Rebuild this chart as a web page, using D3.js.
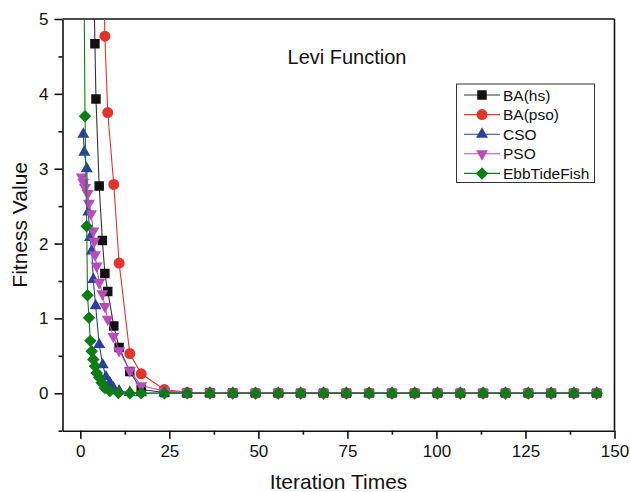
<!DOCTYPE html>
<html>
<head>
  <title>Levi Function</title>
  <script src="https://d3js.org/d3.v7.min.js"></script>
  <style>
    body { margin: 0; background: #fff; }
    svg text { font-family: "Liberation Sans", Arial, sans-serif; fill: #111; }
  </style>
</head>
<body>
<div id="vis"></div>
<script>
  // iterations shared by all curves after the fast drop
  var tailIter = [30.0, 36.4, 42.8, 49.2, 55.6, 61.9, 68.3, 74.7, 81.1, 87.5, 93.9, 100.3, 106.7, 113.1, 119.4, 125.8, 132.2, 138.6, 145.0];

  // BA(hs)
  var hsIter = [3.5, 4.1, 4.4, 5.3, 6.2, 6.9, 7.7, 9.4, 10.9, 13.9, 17.1, 23.6];
  var hsFit  = [6.2, 4.67, 3.93, 2.77, 2.04, 1.60, 1.36, 0.90, 0.61, 0.29, 0.05, 0.01];
  var hsTail = [0.004, 0.003, 0.003, 0.002, 0.002, 0.002, 0.002, 0.002, 0.002, 0.002, 0.002, 0.002, 0.002, 0.002, 0.002, 0.002, 0.002, 0.002, 0.002];

  // BA(pso)
  var baPsoIter = [6.2, 6.9, 7.7, 9.4, 10.9, 13.9, 17.1, 23.6];
  var baPsoFit  = [6.4, 4.77, 3.75, 2.79, 1.74, 0.53, 0.26, 0.05];
  var baPsoTail = [0.012, 0.006, 0.004, 0.003, 0.003, 0.003, 0.003, 0.003, 0.003, 0.003, 0.003, 0.003, 0.003, 0.003, 0.003, 0.003, 0.003, 0.003, 0.003];

  // CSO
  var csoIter = [0.84, 1.12, 1.8, 2.25, 2.72, 3.2, 3.65, 4.3, 5.3, 6.3, 7.2, 8.3, 9.3, 10.9, 13.9, 17.1, 23.6];
  var csoFit  = [3.46, 3.22, 3.00, 2.42, 2.08, 1.90, 1.52, 1.17, 0.65, 0.38, 0.22, 0.14, 0.07, 0.03, 0.01, 0.005, 0.003];
  var csoTail = [0.002, 0.002, 0.002, 0.002, 0.002, 0.002, 0.002, 0.002, 0.002, 0.002, 0.002, 0.002, 0.002, 0.002, 0.002, 0.002, 0.002, 0.002, 0.002];

  // PSO
  var psoIter = [0.4, 0.84, 1.32, 2.08, 2.44, 3.0, 3.65, 3.93, 4.13, 4.6, 5.3, 6.2, 6.9, 7.7, 9.3, 10.9, 13.9, 17.1, 23.6];
  var psoFit  = [2.89, 2.82, 2.75, 2.67, 2.54, 2.40, 2.17, 2.03, 1.85, 1.70, 1.48, 1.33, 1.16, 0.99, 0.76, 0.57, 0.30, 0.10, 0.03];
  var psoTail = [0.01, 0.006, 0.004, 0.003, 0.003, 0.003, 0.003, 0.003, 0.003, 0.003, 0.003, 0.003, 0.003, 0.003, 0.003, 0.003, 0.003, 0.003, 0.003];

  // EbbTideFish
  var etfIter = [0.9, 1.32, 1.8, 2.02, 2.44, 2.81, 3.2, 3.65, 4.13, 4.6, 5.3, 6.0, 6.9, 8.3, 10.7, 13.9, 17.1, 23.6];
  var etfFit  = [6.5, 3.70, 2.23, 1.31, 1.01, 0.70, 0.56, 0.45, 0.36, 0.27, 0.21, 0.14, 0.07, 0.03, 0.003, 0.0, 0.0, 0.0];
  var etfTail = [0, 0, 0, 0, 0, 0, 0, 0, 0, 0, 0, 0, 0, 0, 0, 0, 0, 0, 0];

  var seriesNames = ["BA(hs)", "BA(pso)", "CSO", "PSO", "EbbTideFish"];
  var xTicks = [0, 25, 50, 75, 100, 125, 150];
  var yTicks = [0, 1, 2, 3, 4, 5];

  var colors = ["#111111", "#e3342a", "#2b3f9f", "#b94cbc", "#0b7d14"];
  var lineColors = ["#333333", "#e3342a", "#2b3f9f", "#b94cbc", "#0b7d14"];
  var shapes = [
    {type: d3.symbolSquare, size: 90, rot: 0},
    {type: d3.symbolCircle, size: 95, rot: 0},
    {type: d3.symbolTriangle, size: 62, rot: 0},
    {type: d3.symbolTriangle, size: 62, rot: 180},
    {type: d3.symbolSquare, size: 78, rot: 45}
  ];

  function build(iters, fits, tail) {
    var pts = [];
    for (var i = 0; i < iters.length; i++) pts.push({x: iters[i], y: fits[i]});
    for (var j = 0; j < tailIter.length; j++) pts.push({x: tailIter[j], y: tail[j]});
    return pts;
  }

  var series = [
    build(hsIter, hsFit, hsTail),
    build(baPsoIter, baPsoFit, baPsoTail),
    build(csoIter, csoFit, csoTail),
    build(psoIter, psoFit, psoTail),
    build(etfIter, etfFit, etfTail)
  ];

  var width = 630, height = 492;
  var plotLeft = 62.5, plotRight = 614.5, plotTop = 19, plotBottom = 430.7;

  var svg = d3.select("#vis").append("svg")
    .attr("width", width)
    .attr("height", height);

  var x = d3.scaleLinear().domain([-5, 150]).range([plotLeft, plotRight]);
  var y = d3.scaleLinear().domain([-0.5, 5]).range([plotBottom, plotTop]);

  svg.append("defs").append("clipPath").attr("id", "plotclip")
    .append("rect")
    .attr("x", plotLeft).attr("y", plotTop)
    .attr("width", plotRight - plotLeft).attr("height", plotBottom - plotTop);

  // x axis
  svg.append("g")
    .attr("transform", "translate(0," + plotBottom + ")")
    .call(d3.axisBottom(x).tickValues(xTicks).tickFormat(d3.format("d")).tickSize(8).tickPadding(6).tickSizeOuter(0));
  svg.append("g")
    .attr("transform", "translate(0," + plotBottom + ")")
    .call(d3.axisBottom(x).tickValues([12.5, 37.5, 62.5, 87.5, 112.5, 137.5]).tickSize(4).tickFormat("").tickSizeOuter(0))
    .select(".domain").remove();

  // y axis
  svg.append("g")
    .attr("transform", "translate(" + plotLeft + ",0)")
    .call(d3.axisLeft(y).tickValues(yTicks).tickFormat(d3.format("d")).tickSize(8).tickPadding(6).tickSizeOuter(0));
  svg.append("g")
    .attr("transform", "translate(" + plotLeft + ",0)")
    .call(d3.axisLeft(y).tickValues([-0.5, 0.5, 1.5, 2.5, 3.5, 4.5]).tickSize(4).tickFormat("").tickSizeOuter(0))
    .select(".domain").remove();

  svg.selectAll(".tick text")
    .style("font-size", "17px")
    .style("font-family", "'Liberation Sans', Arial, sans-serif")
    .attr("fill", "#111");
  svg.selectAll(".domain, .tick line")
    .attr("stroke", "#111")
    .attr("stroke-width", 1.6);

  // frame top and right
  svg.append("line").attr("x1", plotLeft).attr("x2", plotRight).attr("y1", plotTop).attr("y2", plotTop)
    .attr("stroke", "#111").attr("stroke-width", 1.6);
  svg.append("line").attr("x1", plotRight).attr("x2", plotRight).attr("y1", plotTop).attr("y2", plotBottom)
    .attr("stroke", "#111").attr("stroke-width", 1.6);

  var plot = svg.append("g").attr("clip-path", "url(#plotclip)");

  var line = d3.line()
    .x(function (d) { return x(d.x); })
    .y(function (d) { return y(d.y); });

  series.forEach(function (pts, i) {
    var g = plot.append("g");
    g.append("path")
      .datum(pts)
      .attr("d", line)
      .attr("fill", "none")
      .attr("stroke", lineColors[i])
      .attr("stroke-width", 1.1);
    g.selectAll("path.mk")
      .data(pts)
      .enter()
      .append("path")
      .attr("class", "mk")
      .attr("d", d3.symbol().type(shapes[i].type).size(shapes[i].size))
      .attr("transform", function (d) {
        return "translate(" + x(d.x) + "," + y(d.y) + ") rotate(" + shapes[i].rot + ")";
      })
      .attr("fill", colors[i]);
  });

  // title
  svg.append("text")
    .attr("x", 347).attr("y", 64)
    .attr("text-anchor", "middle")
    .style("font-size", "20px")
    .text("Levi Function");

  // axis titles
  svg.append("text")
    .attr("x", (plotLeft + plotRight) / 2).attr("y", 489)
    .attr("text-anchor", "middle")
    .style("font-size", "21px")
    .text("Iteration Times");
  svg.append("text")
    .attr("transform", "translate(27," + ((plotTop + plotBottom) / 2) + ") rotate(-90)")
    .attr("text-anchor", "middle")
    .style("font-size", "21px")
    .text("Fitness Value");

  // legend
  var legend = svg.append("g");
  legend.append("rect")
    .attr("x", 456.5).attr("y", 84)
    .attr("width", 138).attr("height", 98.5)
    .attr("fill", "#fff")
    .attr("stroke", "#333")
    .attr("stroke-width", 1);
  seriesNames.forEach(function (name, i) {
    var ly = 95 + i * 19.6;
    legend.append("line")
      .attr("x1", 464).attr("x2", 500)
      .attr("y1", ly).attr("y2", ly)
      .attr("stroke", lineColors[i]).attr("stroke-width", 1.1);
    legend.append("path")
      .attr("d", d3.symbol().type(shapes[i].type).size(shapes[i].size))
      .attr("transform", "translate(482," + ly + ") rotate(" + shapes[i].rot + ")")
      .attr("fill", colors[i]);
    legend.append("text")
      .attr("x", 503).attr("y", ly + 5.5)
      .style("font-size", "15.5px")
      .text(name);
  });
</script>
</body>
</html>
